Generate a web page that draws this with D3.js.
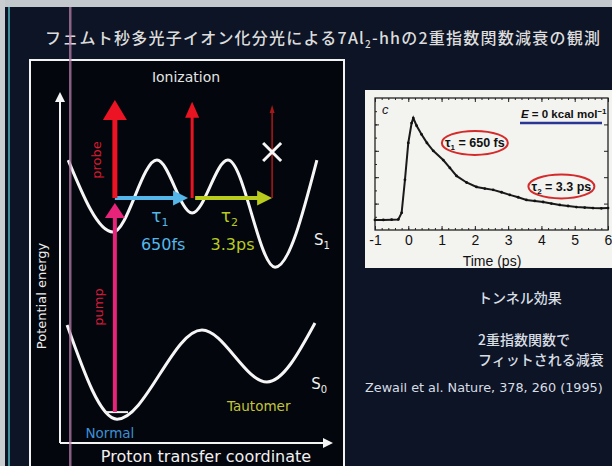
<!DOCTYPE html>
<html><head><meta charset="utf-8">
<script src="https://cdn.jsdelivr.net/npm/d3@7"></script>
<style>
html,body{margin:0;padding:0;background:#0c1425;}
svg{display:block;}
</style></head><body>
<svg id="c" width="612" height="466"></svg>
<script>
// ---- Schematic potential energy surfaces (coordinate 0–100, energy 0–100) ----
const s1Coord  = [3.0, 19.4, 35.5, 48.4, 61.5, 78.8, 94.1];
const s1Energy = [80.6, 60.1, 80.6, 65.5, 80.6, 50.1, 80.6];
const s0Coord  = [2.6, 20.9, 52.0, 75.8, 93.4];
const s0Energy = [33.6, 6.8, 32.2, 17.4, 34.2];
const vibLevel = {from: 16.5, to: 24.9, energy: 8.8};

// vertical excitation / ionization arrows
const pumpArrow   = {coord: 20.1, from: 8.8, to: 68.4};
const probeCoord  = [20.1, 48.4, 77.7];
const probeFrom   = 69.8;
const probeTo     = [97.7, 97.2, 96.3];
// horizontal tunnelling steps on S1
const stepFrom    = [20.1, 49.5];
const stepTo      = [46.9, 77.7];
const stepEnergy  = 69.8;
const stepLabels  = ["650fs", "3.3ps"];

// ---- Transient ion signal, E = 0 kcal/mol ----
const timePs = [-1, -0.75, -0.5, -0.3, -0.2, -0.1, 0, 0.1, 0.15, 0.25, 0.4, 0.56, 0.75, 1.05, 1.25, 1.45,
                1.75, 2.05, 2.3, 2.55, 2.8, 3.05, 3.3, 3.55, 3.8, 4.05, 4.3, 4.55, 4.8, 5.05, 5.3, 5.55, 5.8, 6.0];
const signal = [0.38, 0.38, 0.39, 0.40, 0.65, 1.9, 3.3, 4.05, 4.24, 3.95, 3.62, 3.30, 3.0, 2.65, 2.35, 2.05,
                1.8, 1.63, 1.57, 1.52, 1.43, 1.33, 1.24, 1.14, 1.10, 1.06, 1.0, 0.95, 0.91, 0.87, 0.85, 0.83, 0.82, 0.83];
const timeTicks = [-1, 0, 1, 2, 3, 4, 5, 6];
const signalTicks = [1, 2, 3, 4];

const svg = d3.select("#c");
const W = 612, H = 466;

// slide background and edge bands
svg.append("rect").attr("width", W).attr("height", H).attr("fill", "#0c1425");
svg.append("rect").attr("x", 0).attr("y", 0).attr("width", W).attr("height", 7).attr("fill", "#c3c8cc");
svg.append("rect").attr("x", 0).attr("y", 0).attr("width", 5).attr("height", H).attr("fill", "#c9cdd0");
svg.append("rect").attr("x", 8).attr("y", 7).attr("width", 2).attr("height", H).attr("fill", "#3f8e98");

// title
const title = svg.append("text")
  .attr("x", 45).attr("y", 44)
  .attr("textLength", 555).attr("lengthAdjust", "spacing")
  .attr("font-family", "'Noto Sans CJK JP', sans-serif").attr("font-size", 16).attr("font-weight", 500)
  .attr("fill", "#dcdcdc");
title.append("tspan").text("フェムト秒多光子イオン化分光による7Al");
title.append("tspan").attr("font-size", 10).attr("dy", 4).text("2");
title.append("tspan").attr("dy", -4).text("-hhの2重指数関数減衰の観測");

// ---- left panel: energy diagram ----
svg.append("rect").attr("x", 30).attr("y", 60).attr("width", 314).attr("height", 420)
  .attr("fill", "#03060c").attr("stroke", "#f2f2f2").attr("stroke-width", 2);

const px = d3.scaleLinear().domain([0, 100]).range([60, 333]);
const py = d3.scaleLinear().domain([0, 100]).range([443, 92]);

function head(g, x, y, dir, len, wid, color) {
  // dir: "up" or "right"; (x,y) is the tip
  let pts;
  if (dir === "up") pts = [[x, y], [x - wid / 2, y + len], [x + wid / 2, y + len]];
  else pts = [[x, y], [x - len, y - wid / 2], [x - len, y + wid / 2]];
  g.append("polygon").attr("points", pts.map(p => p.join(",")).join(" ")).attr("fill", color);
}

const diag = svg.append("g");

// axes with arrow heads
diag.append("line").attr("x1", px(0)).attr("y1", py(0)).attr("x2", px(0)).attr("y2", py(100) + 8)
  .attr("stroke", "#f4f4f4").attr("stroke-width", 2);
head(diag, px(0), py(100), "up", 10, 10, "#f4f4f4");
diag.append("line").attr("x1", px(0)).attr("y1", py(0)).attr("x2", px(100) - 8).attr("y2", py(0))
  .attr("stroke", "#f4f4f4").attr("stroke-width", 2);
head(diag, px(100), py(0), "right", 10, 10, "#f4f4f4");

diag.append("text").attr("transform", `translate(46,${296}) rotate(-90)`)
  .attr("text-anchor", "middle").attr("font-family", "DejaVu Sans").attr("font-size", 13)
  .attr("fill", "#ececec").text("Potential energy");
diag.append("text").attr("x", 206).attr("y", 462).attr("text-anchor", "middle")
  .attr("font-family", "DejaVu Sans").attr("font-size", 16).attr("fill", "#f0f0f0")
  .text("Proton transfer coordinate");
diag.append("text").attr("x", 186).attr("y", 82).attr("text-anchor", "middle")
  .attr("font-family", "DejaVu Sans").attr("font-size", 14).attr("fill", "#e4e4e4").text("Ionization");

// potential curves
const curve = d3.line().x(d => px(d[0])).y(d => py(d[1])).curve(d3.curveMonotoneX);
diag.append("path").attr("d", curve(d3.zip(s1Coord, s1Energy)))
  .attr("fill", "none").attr("stroke", "#f6f6f6").attr("stroke-width", 3);
diag.append("path").attr("d", curve(d3.zip(s0Coord, s0Energy)))
  .attr("fill", "none").attr("stroke", "#f6f6f6").attr("stroke-width", 3);
diag.append("line").attr("x1", px(vibLevel.from)).attr("x2", px(vibLevel.to))
  .attr("y1", py(vibLevel.energy)).attr("y2", py(vibLevel.energy))
  .attr("stroke", "#f0f0f0").attr("stroke-width", 2);

// pump
const pumpColor = "#e8237a";
diag.append("line").attr("x1", px(pumpArrow.coord)).attr("x2", px(pumpArrow.coord))
  .attr("y1", py(pumpArrow.from)).attr("y2", py(pumpArrow.to) + 12)
  .attr("stroke", pumpColor).attr("stroke-width", 4);
head(diag, px(pumpArrow.coord), py(pumpArrow.to), "up", 15, 20, pumpColor);

// tunnelling steps
const stepColors = ["#55b6ea", "#b9cc1e"];
stepFrom.forEach((f, i) => {
  diag.append("line").attr("x1", px(f)).attr("x2", px(stepTo[i]) - 12)
    .attr("y1", py(stepEnergy)).attr("y2", py(stepEnergy))
    .attr("stroke", stepColors[i]).attr("stroke-width", 4);
  head(diag, px(stepTo[i]), py(stepEnergy), "right", 15, 15, stepColors[i]);
});

// probe arrows
const probeStyle = [
  {color: "#ec1424", w: 5, len: 20, wid: 24},
  {color: "#e81422", w: 3, len: 16, wid: 14},
  {color: "#a41818", w: 1.6, len: 8, wid: 5}
];
probeCoord.forEach((c, i) => {
  const s = probeStyle[i];
  diag.append("line").attr("x1", px(c)).attr("x2", px(c))
    .attr("y1", py(probeFrom)).attr("y2", py(probeTo[i]) + s.len - 1)
    .attr("stroke", s.color).attr("stroke-width", s.w);
  head(diag, px(c), py(probeTo[i]), "up", s.len, s.wid, s.color);
});
// blocked ionization mark
const xm = {x: px(probeCoord[2]), y: py(82.9)};
diag.append("path").attr("d", `M${xm.x - 9},${xm.y - 9}L${xm.x + 9},${xm.y + 9}M${xm.x + 9},${xm.y - 9}L${xm.x - 9},${xm.y + 9}`)
  .attr("stroke", "#f6f6f6").attr("stroke-width", 3);

// rotated labels
diag.append("text").attr("transform", `translate(101,160) rotate(-90)`).attr("text-anchor", "middle")
  .attr("font-family", "DejaVu Sans").attr("font-size", 13).attr("fill", "#d81a30").text("probe");
diag.append("text").attr("transform", `translate(103,307) rotate(-90)`).attr("text-anchor", "middle")
  .attr("font-family", "DejaVu Sans").attr("font-size", 13).attr("fill", "#d81a3c").text("pump");

// step labels
const tauX = [36.6, 62.0];
tauX.forEach((t, i) => {
  const tt = diag.append("text").attr("x", px(t)).attr("y", py(63)).attr("text-anchor", "middle")
    .attr("font-family", "DejaVu Sans").attr("font-size", 17).attr("fill", stepColors[i]);
  tt.append("tspan").text("τ");
  tt.append("tspan").attr("font-size", 11).attr("dy", 4).text(String(i + 1));
  diag.append("text").attr("x", px(t + 1.2)).attr("y", py(55)).attr("text-anchor", "middle")
    .attr("font-family", "DejaVu Sans").attr("font-size", 16).attr("fill", stepColors[i])
    .text(stepLabels[i]);
});

// state labels
function stateLabel(x, y, sub) {
  const t = diag.append("text").attr("x", x).attr("y", y)
    .attr("font-family", "DejaVu Sans").attr("font-size", 15).attr("fill", "#f0f0f0");
  t.append("tspan").text("S");
  t.append("tspan").attr("font-size", 10).attr("dy", 4).text(sub);
}
stateLabel(px(93), py(56.5), "1");
stateLabel(px(92), py(15.5), "0");
diag.append("text").attr("x", px(18.3)).attr("y", py(1.5)).attr("text-anchor", "middle")
  .attr("font-family", "DejaVu Sans").attr("font-size", 13.5).attr("fill", "#3d8fd6").text("Normal");
diag.append("text").attr("x", px(72.8)).attr("y", py(9)).attr("text-anchor", "middle")
  .attr("font-family", "DejaVu Sans").attr("font-size", 13.5).attr("fill", "#c4c43a").text("Tautomer");

// slide ruler line (runs across the panel)
svg.append("rect").attr("x", 69).attr("y", 7).attr("width", 2.5).attr("height", H)
  .attr("fill", "#b57ea8").attr("opacity", 0.75);

// ---- inset: transient signal ----
const inset = svg.append("g");
inset.append("rect").attr("x", 365).attr("y", 90).attr("width", 247).attr("height", 178).attr("fill", "#f3f3f0");

const tx = d3.scaleLinear().domain([-1, 6]).range([375, 608]);
const sy = d3.scaleLinear().domain([0, 5]).range([230, 98]);
const narrow = "'Liberation Sans Narrow', 'Liberation Sans', Arial, sans-serif";

function styleAxis(g) {
  g.selectAll(".domain").remove();
  g.selectAll("line").attr("stroke", "#222").attr("stroke-width", 1);
  g.selectAll("text").attr("font-family", narrow).attr("font-size", 14).attr("fill", "#111");
}
const minorT = d3.range(-1, 6.001, 0.2);
const minorS = d3.range(0.5, 5, 0.5);
inset.append("g").attr("transform", "translate(0,230)")
  .call(d3.axisBottom(tx).tickValues(minorT).tickSize(-2).tickFormat("")).call(styleAxis);
inset.append("g").attr("transform", "translate(0,230)")
  .call(d3.axisBottom(tx).tickValues(timeTicks).tickSize(-4).tickPadding(5).tickFormat(d => String(d))).call(styleAxis);
inset.append("g").attr("transform", "translate(0,98)")
  .call(d3.axisTop(tx).tickValues(minorT).tickSize(-2).tickFormat("")).call(styleAxis);
inset.append("g").attr("transform", "translate(0,98)")
  .call(d3.axisTop(tx).tickValues(timeTicks).tickSize(-4).tickFormat("")).call(styleAxis);
inset.append("g").attr("transform", "translate(375,0)")
  .call(d3.axisLeft(sy).tickValues(minorS).tickSize(-2).tickFormat("")).call(styleAxis);
inset.append("g").attr("transform", "translate(375,0)")
  .call(d3.axisLeft(sy).tickValues(signalTicks).tickSize(-4).tickFormat("")).call(styleAxis);
inset.append("g").attr("transform", "translate(608,0)")
  .call(d3.axisRight(sy).tickValues(signalTicks).tickSize(-4).tickFormat("")).call(styleAxis);
inset.append("rect").attr("x", 375).attr("y", 98).attr("width", 233).attr("height", 132)
  .attr("fill", "none").attr("stroke", "#222").attr("stroke-width", 1.3);

inset.append("text").attr("x", 492).attr("y", 266).attr("text-anchor", "middle")
  .attr("font-family", narrow).attr("font-size", 14).attr("fill", "#111").text("Time (ps)");
inset.append("text").attr("x", 382).attr("y", 114).attr("font-family", narrow).attr("font-style", "italic")
  .attr("font-size", 13).attr("fill", "#222").text("c");

// data trace
const trace = d3.line().x((d, i) => tx(timePs[i])).y(d => sy(d));
inset.append("path").attr("d", trace(signal)).attr("fill", "none")
  .attr("stroke", "#1a1a1a").attr("stroke-width", 2);
inset.selectAll("circle.pt").data(signal).join("circle").attr("class", "pt")
  .attr("cx", (d, i) => tx(timePs[i])).attr("cy", d => sy(d)).attr("r", 1.4).attr("fill", "#111");

// energy legend
const el = inset.append("text").attr("x", 521).attr("y", 118)
  .attr("font-family", narrow).attr("font-size", 11.5).attr("font-weight", "bold").attr("fill", "#111");
el.append("tspan").attr("font-style", "italic").text("E");
el.append("tspan").text(" = 0 kcal mol");
el.append("tspan").attr("font-size", 8).attr("dy", -4).text("−1");
inset.append("line").attr("x1", 520).attr("x2", 602).attr("y1", 123).attr("y2", 123)
  .attr("stroke", "#2a3694").attr("stroke-width", 2.5);

// lifetime callouts
const callouts = [{t: 2.0, v: 3.3, sub: "1", val: "650 fs"}, {t: 4.6, v: 1.65, sub: "2", val: "3.3 ps"}];
callouts.forEach(c => {
  const cx = tx(c.t), cy = sy(c.v);
  inset.append("ellipse").attr("cx", cx).attr("cy", cy).attr("rx", 33).attr("ry", 12)
    .attr("fill", "none").attr("stroke", "#d52a2a").attr("stroke-width", 2);
  const t = inset.append("text").attr("x", cx).attr("y", cy + 4.5).attr("text-anchor", "middle")
    .attr("font-family", narrow).attr("font-size", 12.5).attr("font-weight", "bold").attr("fill", "#111");
  t.append("tspan").text("τ");
  t.append("tspan").attr("font-size", 8).attr("dy", 3).text(c.sub);
  t.append("tspan").attr("dy", -3).text(" = " + c.val);
});

// ---- notes ----
const jp = "'Noto Sans CJK JP', sans-serif";
const notes = [["トンネル効果", 303], ["2重指数関数で", 345], ["フィットされる減衰", 365]];
notes.forEach(n => {
  svg.append("text").attr("x", 478).attr("y", n[1]).attr("font-family", jp).attr("font-size", 14)
    .attr("font-weight", 500).attr("fill", "#d8dde4").text(n[0]);
});
svg.append("text").attr("x", 365).attr("y", 392).attr("font-family", "DejaVu Sans").attr("font-size", 12.8)
  .attr("fill", "#d8dde4").text("Zewail et al.  Nature, 378, 260 (1995)");
</script>
</body></html>
